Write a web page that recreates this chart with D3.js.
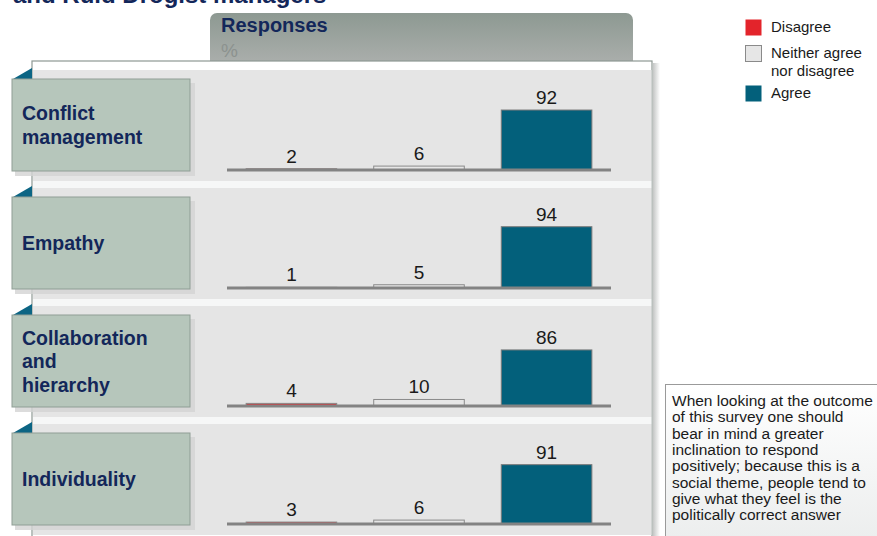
<!DOCTYPE html>
<html>
<head>
<meta charset="utf-8">
<script src="https://cdn.jsdelivr.net/npm/d3@7/dist/d3.min.js"></script>
<style>
  html, body { margin: 0; padding: 0; background: #fff; }
  svg { display: block; font-family: "Liberation Sans", Arial, sans-serif; }
</style>
</head>
<body>
<svg id="chart" width="877" height="536"></svg>
<script>
// ---------- data ----------
const categories = ["Conflict management", "Empathy", "Collaboration and hierarchy", "Individuality"];
const categoryLines = [["Conflict", "management"], ["Empathy"], ["Collaboration", "and", "hierarchy"], ["Individuality"]];
const seriesNames = ["Disagree", "Neither agree nor disagree", "Agree"];
const legendLines = [["Disagree"], ["Neither agree", "nor disagree"], ["Agree"]];
const disagree = [2, 1, 4, 3];
const neither = [6, 5, 10, 6];
const agree = [92, 94, 86, 91];
const titleText = "and Ruid Drogist managers";
const headerText = "Responses";
const unitText = "%";
const noteLines = [
  "When looking at the outcome",
  "of this survey one should",
  "bear in mind a greater",
  "inclination to respond",
  "positively; because this is a",
  "social theme, people tend to",
  "give what they feel is the",
  "politically correct answer"
];

// ---------- setup ----------
const colors = ["#e3242b", "#e6e6e6", "#03607b"];
const strokes = ["#8a8a8a", "#8a8a8a", "#7a7a7a"];
const navy = "#13275a";
const svg = d3.select("#chart");
const defs = svg.append("defs");

const tabGrad = defs.append("linearGradient").attr("id", "tabGrad").attr("x1", 0).attr("x2", 0).attr("y1", 0).attr("y2", 1);
tabGrad.append("stop").attr("offset", "0%").attr("stop-color", "#8d9992");
tabGrad.append("stop").attr("offset", "100%").attr("stop-color", "#aaaeab");

const noteGrad = defs.append("linearGradient").attr("id", "noteGrad").attr("x1", 0).attr("x2", 0).attr("y1", 0).attr("y2", 1);
noteGrad.append("stop").attr("offset", "0%").attr("stop-color", "#ffffff");
noteGrad.append("stop").attr("offset", "100%").attr("stop-color", "#eaecec");

const shadowGrad = defs.append("linearGradient").attr("id", "shadowGrad").attr("x1", 0).attr("x2", 1).attr("y1", 0).attr("y2", 0);
shadowGrad.append("stop").attr("offset", "0%").attr("stop-color", "#c4c6c5");
shadowGrad.append("stop").attr("offset", "100%").attr("stop-color", "#ffffff");

// title (cut off at top, as in the reference)
svg.append("text").attr("x", 13).attr("y", 3).attr("font-size", 24).attr("font-weight", "bold")
  .attr("fill", navy).text(titleText);

// header tab
const tx0 = 210, tx1 = 633, ty0 = 13, ty1 = 62, r = 7;
const tp = d3.path();
tp.moveTo(tx0, ty1);
tp.lineTo(tx0, ty0 + r);
tp.arcTo(tx0, ty0, tx0 + r, ty0, r);
tp.lineTo(tx1 - r, ty0);
tp.arcTo(tx1, ty0, tx1, ty0 + r, r);
tp.lineTo(tx1, ty1);
tp.closePath();
svg.append("path").attr("d", tp.toString()).attr("fill", "url(#tabGrad)");
svg.append("text").attr("x", 221).attr("y", 32).attr("font-size", 20).attr("font-weight", "bold")
  .attr("fill", navy).text(headerText);
svg.append("text").attr("x", 221).attr("y", 57).attr("font-size", 19)
  .attr("fill", "#8c928f").text(unitText);

// main panel
const px0 = 32, px1 = 652, py0 = 61;
svg.append("rect").attr("x", px1 + 1).attr("y", py0 + 2).attr("width", 7).attr("height", 536 - py0)
  .attr("fill", "url(#shadowGrad)");
svg.append("rect").attr("x", px0).attr("y", py0).attr("width", px1 - px0).attr("height", 540 - py0)
  .attr("fill", "#ffffff").attr("stroke", "#8e9893").attr("stroke-width", 1.2);

// rows
const rowScale = d3.scaleBand().domain(categories).range([70, 70 + 4 * 118 - 7]).paddingInner(7 / 118).paddingOuter(0);
const xScale = d3.scaleBand().domain(seriesNames).range([227, 611]).paddingInner(0.29).paddingOuter(0.15);
const hScale = d3.scaleLinear().domain([0, 100]).range([0, 65.2]);

const seriesValues = [disagree, neither, agree];

categories.forEach((cat, i) => {
  const top = rowScale(cat);
  const g = svg.append("g");
  // band
  g.append("rect").attr("x", px0 + 1).attr("y", top).attr("width", px1 - px0 - 1.5).attr("height", rowScale.bandwidth())
    .attr("fill", "#e5e5e5");
  // light separator strip below band
  if (i < categories.length - 1) {
    g.append("rect").attr("x", px0 + 1).attr("y", top + rowScale.bandwidth()).attr("width", px1 - px0 - 1.5)
      .attr("height", rowScale.step() - rowScale.bandwidth()).attr("fill", "#f6f7f7");
  }
  const base = top + 100;
  // bars
  seriesNames.forEach((s, k) => {
    const v = seriesValues[k][i];
    const h = hScale(v);
    g.append("rect").attr("x", xScale(s)).attr("y", base - h).attr("width", xScale.bandwidth()).attr("height", h)
      .attr("fill", colors[k]).attr("stroke", strokes[k]).attr("stroke-width", 1);
    g.append("text").attr("x", xScale(s) + xScale.bandwidth() / 2).attr("y", base - h - 6)
      .attr("text-anchor", "middle").attr("font-size", 19).attr("fill", "#1a1a1a").text(v);
  });
  // baseline
  g.append("line").attr("x1", 227).attr("x2", 611).attr("y1", base).attr("y2", base)
    .attr("stroke", "#838383").attr("stroke-width", 3);

  // label box
  const by = top + 9, bh = 92;
  g.append("rect").attr("x", 15).attr("y", by + 4).attr("width", 180).attr("height", bh + 1).attr("fill", "#d3d3d3").attr("opacity", 0.8);
  g.append("path").attr("d", `M13,${by} L32,${by} L32,${top - 2} Z`).attr("fill", "#0c6584");
  g.append("rect").attr("x", 12).attr("y", by).attr("width", 178).attr("height", bh)
    .attr("fill", "#b6c6bb").attr("stroke", "#8f9e95").attr("stroke-width", 1);
  const lines = categoryLines[i];
  const lh = 23.5;
  const cy = by + bh / 2 + 7 - (lines.length - 1) * lh / 2;
  lines.forEach((ln, j) => {
    g.append("text").attr("x", 22).attr("y", cy + j * lh).attr("font-size", 19.5).attr("font-weight", "bold")
      .attr("fill", navy).text(ln);
  });
});

// legend
const legY = [19, 45, 85];
seriesNames.forEach((s, k) => {
  svg.append("rect").attr("x", 745.5).attr("y", legY[k] + 0.5).attr("width", 16).attr("height", 16)
    .attr("fill", colors[k]).attr("stroke", k === 1 ? "#8a8a8a" : "none");
  legendLines[k].forEach((ln, j) => {
    svg.append("text").attr("x", 771).attr("y", legY[k] + 13 + j * 18).attr("font-size", 15)
      .attr("fill", "#1a1a1a").text(ln);
  });
});

// note box
svg.append("rect").attr("x", 665.5).attr("y", 384.5).attr("width", 230).attr("height", 170)
  .attr("fill", "url(#noteGrad)").attr("stroke", "#9a9a9a").attr("stroke-width", 1);
noteLines.forEach((ln, j) => {
  svg.append("text").attr("x", 672).attr("y", 406 + j * 16.3).attr("font-size", 15.5)
    .attr("fill", "#1a1a1a").text(ln);
});
</script>
</body>
</html>
